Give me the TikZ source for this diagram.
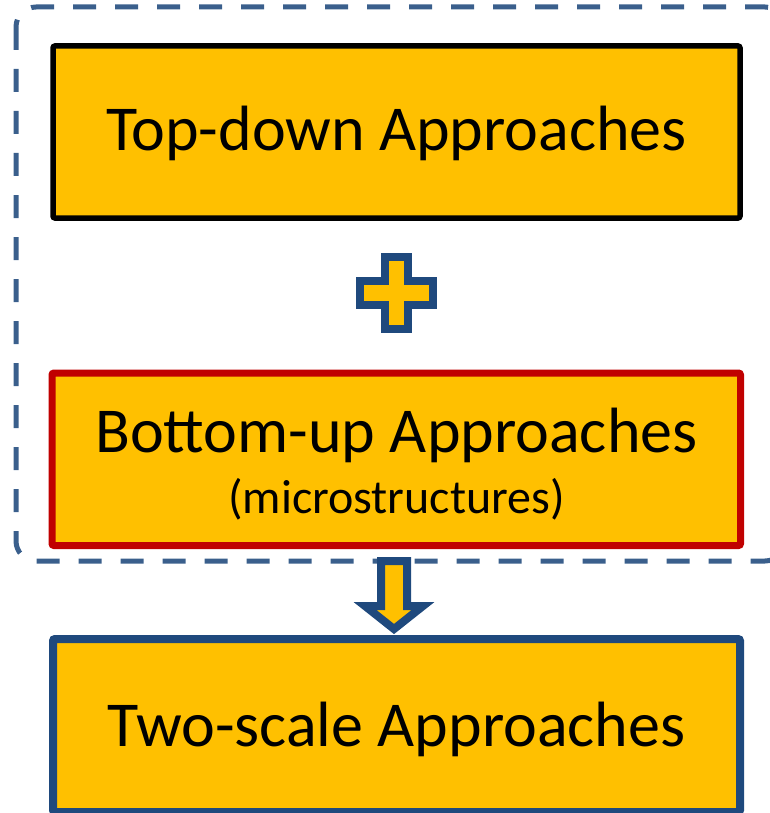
\documentclass[tikz,border=0pt]{standalone}
\usepackage{fontspec}
\setmainfont{Carlito}
\definecolor{boxfill}{HTML}{FFC000}
\definecolor{navy}{RGB}{31,73,125}
\definecolor{dashblue}{RGB}{58,95,140}
\definecolor{darkred}{HTML}{C00000}
\begin{document}
\begin{tikzpicture}[x=1pt,y=-1pt,
  panel/.style={rectangle, fill=boxfill, rounded corners=2pt, inner sep=0pt},
  bigtext/.style={font=\fontsize{64}{70}\selectfont, anchor=base, inner sep=0pt},
  smalltext/.style={font=\fontsize{48}{54}\selectfont, anchor=base, inner sep=0pt},
  blocksym/.style={fill=boxfill, draw=navy, line width=8pt, miter limit=10}]
\useasboundingbox (0,0) rectangle (769,813);

% dashed grouping frame (its right side runs past the page edge)
\draw[dashblue, line width=5pt, dash pattern=on 23pt off 19pt, rounded corners=20pt]
  (16,7) rectangle (785,561);

% the three approach panels
\node[panel, draw=black, line width=5.5pt, minimum width=687pt, minimum height=172pt]
  (topdown) at (396.5,132) {};
\node[panel, draw=darkred, line width=7pt, minimum width=688.5pt, minimum height=172.5pt]
  (bottomup) at (396.25,459.25) {};
\node[panel, draw=navy, line width=8pt, minimum width=687pt, minimum height=173pt]
  (twoscale) at (396.5,725.5) {};

\node[bigtext] (tdlabel) at (396.5,151) {Top-down Approaches};
\node[bigtext] (bulabel) at (396.5,452) {Bottom-up Approaches};
\node[smalltext] (bunote) at (396.5,513) {(microstructures)};
\node[bigtext] (tslabel) at (396.5,746) {Two-scale Approaches};

% plus sign between the two upper panels
\draw[blocksym]
  (385,257) -- (408,257) -- (408,281) -- (433,281) -- (433,305) -- (408,305)
  -- (408,329) -- (385,329) -- (385,305) -- (360,305) -- (360,281) -- (385,281) -- cycle;

% block arrow down to the two-scale panel
\draw[blocksym]
  (381,561) -- (407,561) -- (407,606) -- (423,606) -- (394,629) -- (365,606)
  -- (381,606) -- cycle;
\end{tikzpicture}
\end{document}
